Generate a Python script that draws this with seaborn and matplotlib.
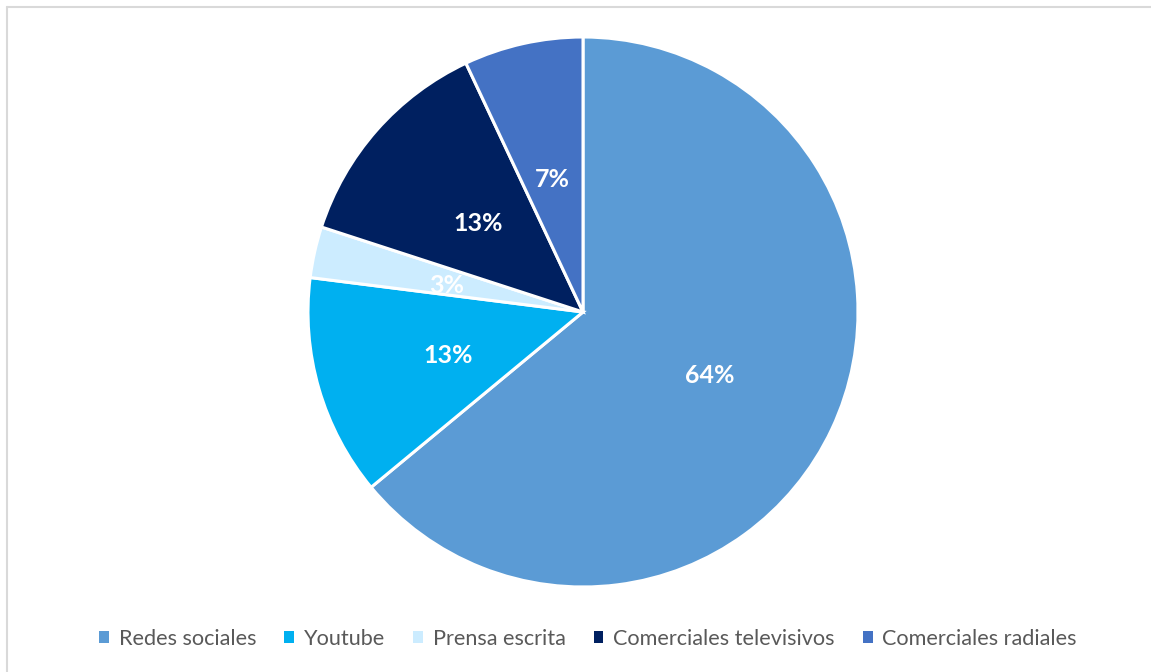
import matplotlib
matplotlib.use("Agg")
import matplotlib.pyplot as plt
from matplotlib.patches import Patch
from matplotlib.lines import Line2D
import seaborn as sns

# Survey shares by media channel
categories = ["Redes sociales", "Youtube", "Prensa escrita",
              "Comerciales televisivos", "Comerciales radiales"]
shares = [64, 13, 3, 13, 7]
colors = ["#5B9BD5", "#00B0F0", "#CCECFF", "#002060", "#4472C4"]

sns.set_theme(style="white")
plt.rcParams["font.family"] = ["Lato", "DejaVu Sans"]

W, H = 1151, 672
fig = plt.figure(figsize=(W / 100, H / 100), dpi=100)
fig.patch.set_facecolor("white")

# Pie axes: centre (583, 312) px, radius 275 px
cx, cy, r = 583, 312, 275
ax = fig.add_axes([(cx - r) / W, (H - cy - r) / H, 2 * r / W, 2 * r / H])
wedges, texts, autotexts = ax.pie(
    shares,
    colors=colors,
    startangle=90,
    counterclock=False,
    radius=1.0,
    autopct=lambda p: f"{p:.0f}%",
    pctdistance=0.51,
    wedgeprops=dict(edgecolor="white", linewidth=2.2),
    textprops=dict(color="white", fontsize=18, fontweight="bold"),
)
for t in autotexts:
    x, y = t.get_position()
    t.set_position((x, y - 0.015))
ax.set_xlim(-1, 1)
ax.set_ylim(-1, 1)
ax.set_aspect("equal")
ax.axis("off")

# Chart frame (left and top edges visible)
fig.add_artist(Line2D([7 / W, 7 / W], [0, 1 - 7 / H], transform=fig.transFigure,
                      color="#D9D9D9", linewidth=1.5))
fig.add_artist(Line2D([7 / W, 1], [1 - 7 / H, 1 - 7 / H], transform=fig.transFigure,
                      color="#D9D9D9", linewidth=1.5))

handles = [Patch(facecolor=c, edgecolor="none") for c in colors]
fig.legend(handles, categories, loc="center", bbox_to_anchor=(588 / W, 1 - 639 / H),
           ncol=5, frameon=False, fontsize=15.6, labelcolor="#595959",
           handlelength=0.45, handleheight=0.45, handletextpad=0.45,
           columnspacing=1.3)

fig.savefig("out.png", dpi=100, facecolor="white")
